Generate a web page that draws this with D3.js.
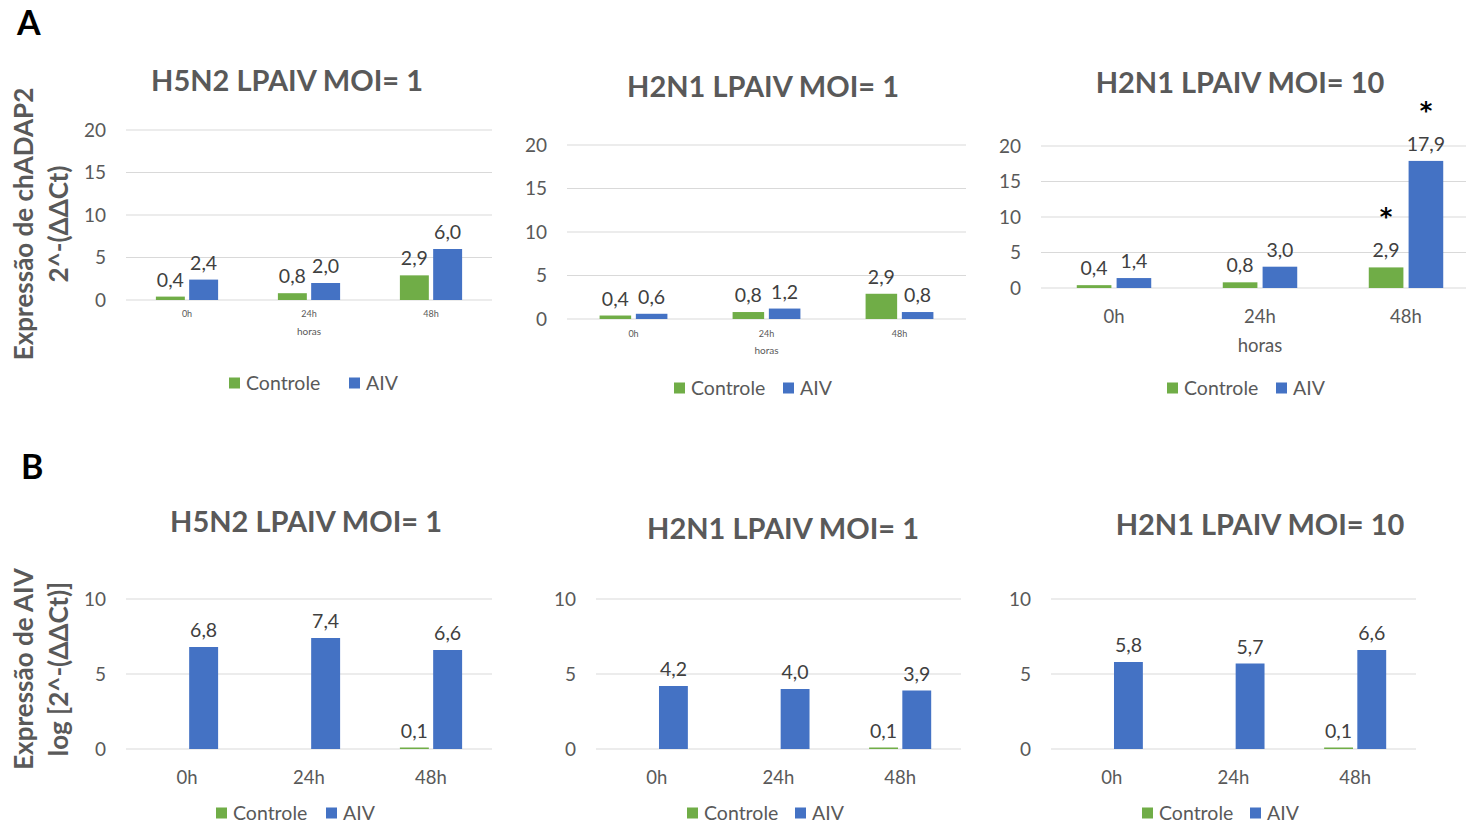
<!DOCTYPE html>
<html>
<head>
<meta charset="utf-8">
<script src="https://cdn.jsdelivr.net/npm/d3@7"></script>
<style>
  body { margin: 0; background: #fff; }
  svg { display: block; }
</style>
</head>
<body>
<svg id="fig" width="1466" height="826"></svg>
<script>
// ---- data ----
const horas = ["0h", "24h", "48h"];
const series = ["Controle", "AIV"];
const ticksA = [0, 5, 10, 15, 20];
const ticksB = [0, 5, 10];

const titles = ["H5N2 LPAIV MOI= 1", "H2N1 LPAIV MOI= 1", "H2N1 LPAIV MOI= 10"];

// A: chADAP2 expression, 2^-(ΔΔCt)
const chadapH5n2Moi1Controle = [0.4, 0.8, 2.9];
const chadapH5n2Moi1AIV      = [2.4, 2.0, 6.0];
const chadapH2n1Moi1Controle = [0.4, 0.8, 2.9];
const chadapH2n1Moi1AIV      = [0.6, 1.2, 0.8];
const chadapH2n1Moi10Controle = [0.4, 0.8, 2.9];
const chadapH2n1Moi10AIV      = [1.4, 3.0, 17.9];
// significance marks (*) for H2N1 MOI=10, per time point: [Controle, AIV]
const chadapH2n1Moi10Signif = [[false, false], [false, false], [true, true]];

// B: AIV expression, log[2^-(ΔΔCt)]
const aivH5n2Moi1Controle = [null, null, 0.1];
const aivH5n2Moi1AIV      = [6.8, 7.4, 6.6];
const aivH2n1Moi1Controle = [null, null, 0.1];
const aivH2n1Moi1AIV      = [4.2, 4.0, 3.9];
const aivH2n1Moi10Controle = [null, null, 0.1];
const aivH2n1Moi10AIV      = [5.8, 5.7, 6.6];

// ---- styles ----
const FONT = "Lato, 'Open Sans', sans-serif";
const GREEN = "#70ad47";
const BLUE = "#4472c4";
const GREY_TEXT = "#595959";
const LABEL_TEXT = "#404040";
const GRID = "#d9d9d9";

const fmt = d3.formatLocale({ decimal: ",", thousands: ".", grouping: [3], currency: ["", ""] }).format(".1f");

const svg = d3.select("#fig");

// panel layouts
const panels = [
  { title: titles[0], controle: chadapH5n2Moi1Controle, aiv: chadapH5n2Moi1AIV, ticks: ticksA,
    x0: 126, x1: 492, yBase: 300, yTop: 130, titleX: 287, titleY: 91,
    catSize: 9, catY: 317, horasY: 335, horasSize: 10, legY: 383, legG: 229, legB: 349 },
  { title: titles[1], controle: chadapH2n1Moi1Controle, aiv: chadapH2n1Moi1AIV, ticks: ticksA,
    x0: 567, x1: 966, yBase: 319, yTop: 145, titleX: 763, titleY: 97,
    catSize: 9, catY: 337, horasY: 354, horasSize: 10, legY: 388, legG: 674, legB: 783 },
  { title: titles[2], controle: chadapH2n1Moi10Controle, aiv: chadapH2n1Moi10AIV, ticks: ticksA,
    signif: chadapH2n1Moi10Signif,
    x0: 1041, x1: 1479, yBase: 288, yTop: 146, titleX: 1240, titleY: 93,
    catSize: 18.5, catY: 323, horasY: 352, horasSize: 18.5, legY: 388, legG: 1167, legB: 1276 },
  { title: titles[0], controle: aivH5n2Moi1Controle, aiv: aivH5n2Moi1AIV, ticks: ticksB,
    x0: 126, x1: 492, yBase: 749, yTop: 599, titleX: 306, titleY: 532,
    catSize: 18.5, catY: 784, legY: 813, legG: 216, legB: 326 },
  { title: titles[1], controle: aivH2n1Moi1Controle, aiv: aivH2n1Moi1AIV, ticks: ticksB,
    x0: 596, x1: 961, yBase: 749, yTop: 599, titleX: 783, titleY: 539,
    catSize: 18.5, catY: 784, legY: 813, legG: 687, legB: 795 },
  { title: titles[2], controle: aivH2n1Moi10Controle, aiv: aivH2n1Moi10AIV, ticks: ticksB,
    x0: 1051, x1: 1416, yBase: 749, yTop: 599, titleX: 1260, titleY: 535,
    catSize: 18.5, catY: 784, legY: 813, legG: 1142, legB: 1250 }
];

function drawPanel(p) {
  const g = svg.append("g");
  const yMax = p.ticks[p.ticks.length - 1];
  const x = d3.scaleBand().domain(horas).range([p.x0, p.x1]);
  const y = d3.scaleLinear().domain([0, yMax]).range([p.yBase, p.yTop]);
  const pairW = x.bandwidth() * 0.51;
  const xs = d3.scaleBand().domain(series).range([0, pairW]).paddingInner(0.13);
  const color = d3.scaleOrdinal().domain(series).range([GREEN, BLUE]);

  // gridlines
  g.append("g").selectAll("line").data(p.ticks).join("line")
    .attr("x1", p.x0).attr("x2", p.x1)
    .attr("y1", d => y(d)).attr("y2", d => y(d))
    .attr("stroke", GRID).attr("stroke-width", 1);

  // y axis labels
  const ay = g.append("g").attr("transform", `translate(${p.x0},0)`)
    .call(d3.axisLeft(y).tickValues(p.ticks).tickSize(0).tickPadding(20).tickFormat(d3.format("d")));
  ay.select(".domain").remove();
  ay.selectAll("text").attr("font-family", FONT).attr("font-size", 19).attr("fill", GREY_TEXT);

  // x axis labels
  const ax = g.append("g").attr("transform", `translate(0,${p.catY})`)
    .call(d3.axisBottom(x).tickSize(0).tickPadding(0));
  ax.select(".domain").remove();
  ax.selectAll("text").attr("dy", 0).attr("y", 0)
    .attr("font-family", FONT).attr("font-size", p.catSize).attr("fill", GREY_TEXT);

  if (p.horasY) {
    g.append("text").attr("x", (p.x0 + p.x1) / 2).attr("y", p.horasY)
      .attr("text-anchor", "middle").attr("font-family", FONT)
      .attr("font-size", p.horasSize).attr("fill", GREY_TEXT).text("horas");
  }

  // bars
  const rows = horas.flatMap((h, i) => [
    { h, i, s: "Controle", v: p.controle[i], sig: p.signif ? p.signif[i][0] : false },
    { h, i, s: "AIV", v: p.aiv[i], sig: p.signif ? p.signif[i][1] : false }
  ]).filter(d => d.v != null);
  const bx = d => x(d.h) + (x.bandwidth() - pairW) / 2 + xs(d.s);

  g.append("g").selectAll("rect").data(rows).join("rect")
    .attr("x", bx).attr("width", xs.bandwidth())
    .attr("y", d => y(d.v)).attr("height", d => y(0) - y(d.v))
    .attr("fill", d => color(d.s));

  g.append("g").selectAll("text").data(rows).join("text")
    .attr("x", d => bx(d) + xs.bandwidth() / 2)
    .attr("y", d => y(d.v) - 10)
    .attr("text-anchor", "middle").attr("font-family", FONT).attr("font-size", 19.5)
    .attr("fill", LABEL_TEXT).text(d => fmt(d.v));

  // significance asterisks
  g.append("g").selectAll("text").data(rows.filter(d => d.sig)).join("text")
    .attr("x", d => bx(d) + xs.bandwidth() / 2)
    .attr("y", d => y(d.v) - 42)
    .attr("text-anchor", "middle").attr("font-family", "'DejaVu Sans', sans-serif").attr("font-size", 24)
    .attr("font-weight", "bold").attr("fill", "#000").text("*");

  // title
  g.append("text").attr("x", p.titleX).attr("y", p.titleY)
    .attr("text-anchor", "middle").attr("font-family", FONT).attr("font-weight", "bold")
    .attr("font-size", 29).attr("fill", GREY_TEXT).text(p.title);

  // legend
  const leg = g.append("g");
  [[p.legG, "Controle"], [p.legB, "AIV"]].forEach(([lx, name]) => {
    leg.append("rect").attr("x", lx).attr("y", p.legY - 5.5).attr("width", 11).attr("height", 11)
      .attr("fill", color(name));
    leg.append("text").attr("x", lx + 17).attr("y", p.legY + 6.5)
      .attr("font-family", FONT).attr("font-size", 19.5).attr("fill", GREY_TEXT).text(name);
  });
}

panels.forEach(drawPanel);

// axis titles (rotated)
function yTitle(lines, cy) {
  lines.forEach(([txt, bx]) => {
    svg.append("text").attr("transform", `translate(${bx},${cy}) rotate(-90)`)
      .attr("text-anchor", "middle").attr("font-family", FONT).attr("font-weight", "bold")
      .attr("font-size", 26).attr("fill", GREY_TEXT).text(txt);
  });
}
yTitle([["Expressão de chADAP2", 33], ["2^-(ΔΔCt)", 68]], 224);
yTitle([["Expressão de AIV", 33], ["log [2^-(ΔΔCt)]", 68]], 669);

// panel letters
svg.append("text").attr("x", 17).attr("y", 35).attr("font-family", FONT).attr("font-weight", "bold")
  .attr("font-size", 34).attr("fill", "#000").text("A");
svg.append("text").attr("x", 21).attr("y", 479).attr("font-family", FONT).attr("font-weight", "bold")
  .attr("font-size", 34).attr("fill", "#000").text("B");
</script>
</body>
</html>
